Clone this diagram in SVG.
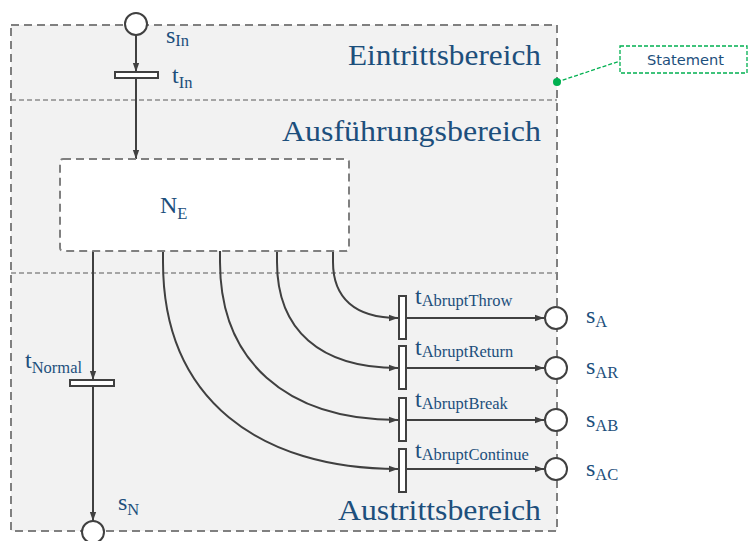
<svg xmlns="http://www.w3.org/2000/svg" width="748" height="541" viewBox="0 0 748 541">
  <defs>
    <marker id="arr" viewBox="0 0 10 10" refX="10" refY="5" markerWidth="9" markerHeight="9" markerUnits="userSpaceOnUse" orient="auto">
      <path d="M0,1.5 L10,5 L0,8.5 Z" fill="#404040"/>
    </marker>
    <style>
      .region { fill: #f2f2f2; stroke: #808080; stroke-width: 2; stroke-dasharray: 8 5; }
      .divider { stroke: #8c8c8c; stroke-width: 1.3; stroke-dasharray: 5 3; fill: none; }
      .net { fill: #ffffff; stroke: #808080; stroke-width: 2; stroke-dasharray: 8 5; }
      .edge { fill: none; stroke: #404040; stroke-width: 2; }
      .trans { fill: #ffffff; stroke: #404040; stroke-width: 2; }
      .place { fill: #ffffff; stroke: #404040; stroke-width: 2; }
      .lbl { font-family: "Liberation Serif", "DejaVu Serif", serif; fill: #1d4f7c; }
      .main { font-size: 24px; }
      .idx { font-size: 16.5px; }
      .head { font-size: 29px; text-anchor: end; }
    </style>
  </defs>

  <!-- statement area with its three regions -->
  <g id="statement">
    <rect class="region" x="11" y="25" width="546" height="506"/>
    <line class="divider" x1="11" y1="100" x2="557" y2="100"/>
    <line class="divider" x1="11" y1="273" x2="557" y2="273"/>
    <text class="lbl head" x="541" y="65" textLength="193" lengthAdjust="spacingAndGlyphs">Eintrittsbereich</text>
    <text class="lbl head" x="541" y="141" textLength="259" lengthAdjust="spacingAndGlyphs">Ausführungsbereich</text>
    <text class="lbl head" x="541" y="520" textLength="203" lengthAdjust="spacingAndGlyphs">Austrittsbereich</text>
  </g>

  <!-- callout -->
  <g id="callout">
    <line x1="557" y1="82" x2="620" y2="61" stroke="#00b050" stroke-width="1.3" stroke-dasharray="4 2"/>
    <circle cx="557" cy="82" r="4" fill="#00b050"/>
    <rect x="620" y="46" width="127" height="27" fill="#ffffff" stroke="#00b050" stroke-width="1.3" stroke-dasharray="4 2"/>
    <text x="647" y="64.5" textLength="77" lengthAdjust="spacingAndGlyphs" font-family="'DejaVu Sans', 'Liberation Sans', sans-serif" font-size="14" fill="#1d4f7c">Statement</text>
  </g>

  <!-- connectors -->
  <g id="connectors">
    <line class="edge" x1="136" y1="35" x2="136" y2="72" marker-end="url(#arr)"/>
    <line class="edge" x1="136" y1="78" x2="136" y2="159" marker-end="url(#arr)"/>
    <line class="edge" x1="93" y1="251" x2="93" y2="380" marker-end="url(#arr)"/>
    <line class="edge" x1="93" y1="386" x2="93" y2="521" marker-end="url(#arr)"/>
    <path class="edge" d="M333,251 L333,262 C333,298 355,318 398,318" marker-end="url(#arr)"/>
    <path class="edge" d="M277,251 L277,262 C277,330 320,368 398,368" marker-end="url(#arr)"/>
    <path class="edge" d="M220,251 L220,262 C220,360 285,420 398,420" marker-end="url(#arr)"/>
    <path class="edge" d="M163,251 L163,262 C163,400 260,469 398,469" marker-end="url(#arr)"/>
    <line class="edge" x1="406" y1="318" x2="544" y2="318" marker-end="url(#arr)"/>
    <line class="edge" x1="406" y1="368" x2="544" y2="368" marker-end="url(#arr)"/>
    <line class="edge" x1="406" y1="420" x2="544" y2="420" marker-end="url(#arr)"/>
    <line class="edge" x1="406" y1="469" x2="544" y2="469" marker-end="url(#arr)"/>
  </g>

  <!-- body net -->
  <g id="NE">
    <rect class="net" x="60" y="159" width="289" height="92" rx="3"/>
    <text class="lbl" x="160" y="213"><tspan class="main">N</tspan><tspan class="idx" dy="6">E</tspan></text>
  </g>

  <g id="sIn">
    <circle class="place" cx="136" cy="24" r="11"/>
    <text class="lbl" x="166" y="43"><tspan class="main">s</tspan><tspan class="idx" dy="3">In</tspan></text>
  </g>
  <g id="tIn">
    <rect class="trans" x="115" y="72" width="43" height="6"/>
    <text class="lbl" x="172" y="83"><tspan class="main">t</tspan><tspan class="idx" dy="5">In</tspan></text>
  </g>

  <g id="tNormal">
    <rect class="trans" x="70" y="380" width="44" height="6"/>
    <text class="lbl" x="25" y="368"><tspan class="main">t</tspan><tspan class="idx" dy="5">Normal</tspan></text>
  </g>
  <g id="sN">
    <circle class="place" cx="93" cy="532" r="11"/>
    <text class="lbl" x="118" y="510"><tspan class="main">s</tspan><tspan class="idx" dy="5">N</tspan></text>
  </g>

  <g id="tAbruptThrow">
    <rect class="trans" x="399" y="296" width="7" height="43"/>
    <text class="lbl" x="415" y="304"><tspan class="main">t</tspan><tspan class="idx" dy="2">AbruptThrow</tspan></text>
  </g>
  <g id="tAbruptReturn">
    <rect class="trans" x="399" y="346" width="7" height="43"/>
    <text class="lbl" x="415" y="355"><tspan class="main">t</tspan><tspan class="idx" dy="2">AbruptReturn</tspan></text>
  </g>
  <g id="tAbruptBreak">
    <rect class="trans" x="399" y="398" width="7" height="43"/>
    <text class="lbl" x="415" y="407"><tspan class="main">t</tspan><tspan class="idx" dy="2">AbruptBreak</tspan></text>
  </g>
  <g id="tAbruptContinue">
    <rect class="trans" x="399" y="449" width="7" height="43"/>
    <text class="lbl" x="415" y="458"><tspan class="main">t</tspan><tspan class="idx" dy="2">AbruptContinue</tspan></text>
  </g>

  <g id="sA">
    <circle class="place" cx="556" cy="318" r="11"/>
    <text class="lbl" x="586" y="323"><tspan class="main">s</tspan><tspan class="idx" dy="4">A</tspan></text>
  </g>
  <g id="sAR">
    <circle class="place" cx="556" cy="368" r="11"/>
    <text class="lbl" x="586" y="374"><tspan class="main">s</tspan><tspan class="idx" dy="4">AR</tspan></text>
  </g>
  <g id="sAB">
    <circle class="place" cx="556" cy="420" r="11"/>
    <text class="lbl" x="586" y="427"><tspan class="main">s</tspan><tspan class="idx" dy="4">AB</tspan></text>
  </g>
  <g id="sAC">
    <circle class="place" cx="556" cy="469" r="11"/>
    <text class="lbl" x="586" y="476"><tspan class="main">s</tspan><tspan class="idx" dy="4">AC</tspan></text>
  </g>
</svg>
